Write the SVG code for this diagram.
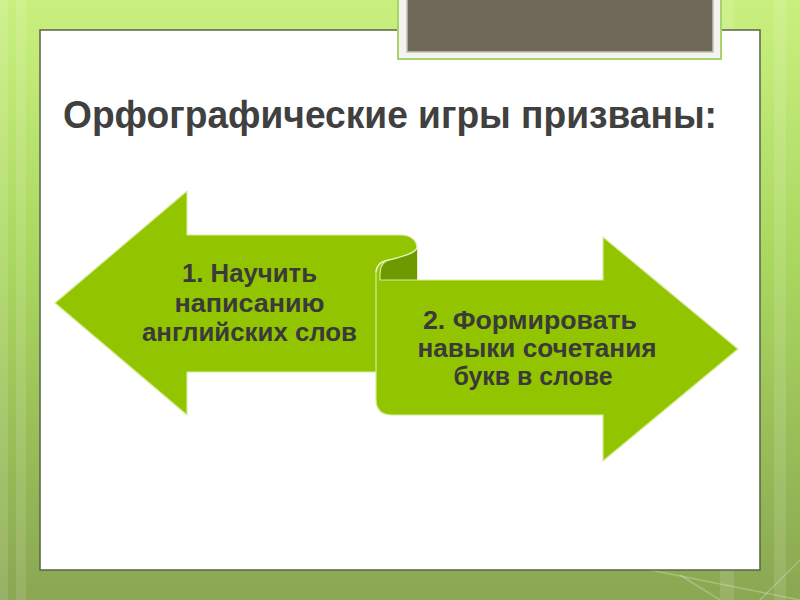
<svg xmlns="http://www.w3.org/2000/svg" width="800" height="600" viewBox="0 0 800 600">
  <defs>
    <linearGradient id="bg" x1="0" y1="0" x2="0" y2="1">
      <stop offset="0" stop-color="#c9f07f"/>
      <stop offset="0.45" stop-color="#a9d65f"/>
      <stop offset="1" stop-color="#8aa752"/>
    </linearGradient>
    <style>
      .stripe { fill: #ffffff; opacity: 0.12; }
      .diag { stroke: #ffffff; stroke-opacity: 0.25; stroke-width: 1.5; fill: none; }
      .arrow { fill: #93c400; stroke: #d6ec9c; stroke-width: 1.2; stroke-linejoin: round; }
      .curl { fill: #6e9a00; }
      .hl { fill: none; stroke: #e4f3b8; stroke-width: 1.5; }
      .title { font-family: "Liberation Sans", Arial, sans-serif; font-weight: bold; font-size: 38px; fill: #404040; }
      .lbl { font-family: "Liberation Sans", Arial, sans-serif; font-weight: bold; font-size: 25px; fill: #3a3a3a; text-anchor: middle; }
    </style>
  </defs>

  <!-- background -->
  <rect x="0" y="0" width="800" height="600" fill="url(#bg)"/>
  <rect class="stripe" x="0" y="0" width="8" height="600"/>
  <rect class="stripe" x="16" y="0" width="10" height="600"/>
  <rect class="stripe" x="774" y="0" width="12" height="600"/>
  <rect class="stripe" x="720" y="0" width="14" height="600"/>
  <line class="diag" x1="600" y1="560" x2="800" y2="600"/>
  <line class="diag" x1="680" y1="575" x2="720" y2="600"/>
  <line class="diag" x1="760" y1="600" x2="800" y2="560"/>

  <!-- white panel -->
  <rect x="40" y="30" width="720" height="540" fill="#ffffff" stroke="#5b6447" stroke-width="1.5"/>

  <!-- top dark box -->
  <g id="topbox">
    <rect x="398" y="-5" width="323" height="64" fill="#f3f3ef" stroke="#a8d26c" stroke-width="2"/>
    <rect x="407" y="-3" width="306" height="55" fill="#6f6757" stroke="#c4c0b6" stroke-width="1.5"/>
  </g>

  <!-- title -->
  <g id="title">
    <text class="title" x="63" y="128" textLength="654" lengthAdjust="spacingAndGlyphs">Орфографические игры призваны:</text>
  </g>

  <!-- left arrow -->
  <g id="node1">
    <path class="arrow" d="M55,303 L187,191 L187,235 L401,235 C411,235 417,241 417,248 L417,372 L187,372 L187,415 Z"/>
    <path class="curl" d="M379,280 L379,272 C381,264 390,259 400,257 C410,255 417,252 417,247 L417,280 Z"/>
    <text class="lbl" x="249.5" y="282" textLength="135" lengthAdjust="spacingAndGlyphs">1. Научить</text>
    <text class="lbl" x="249.5" y="312" textLength="150" lengthAdjust="spacingAndGlyphs">написанию</text>
    <text class="lbl" x="249.5" y="341" textLength="215" lengthAdjust="spacingAndGlyphs">английских слов</text>
  </g>

  <!-- right arrow -->
  <g id="node2">
    <path class="arrow" d="M376,272 Q377,263 385,261 Q380,266 380,274 L380,280 L603,280 L603,237 L738,349 L603,461 L603,415 L392,415 Q376,415 376,399 Z"/>
    <path class="hl" d="M376,272 Q377,263 385,261 C396,258 417,254 417,247"/>
    <text class="lbl" x="530" y="329" textLength="214" lengthAdjust="spacingAndGlyphs">2. Формировать</text>
    <text class="lbl" x="537" y="357" textLength="239" lengthAdjust="spacingAndGlyphs">навыки сочетания</text>
    <text class="lbl" x="533" y="385" textLength="159" lengthAdjust="spacingAndGlyphs">букв в слове</text>
  </g>

  <g id="connectors"/>
</svg>
